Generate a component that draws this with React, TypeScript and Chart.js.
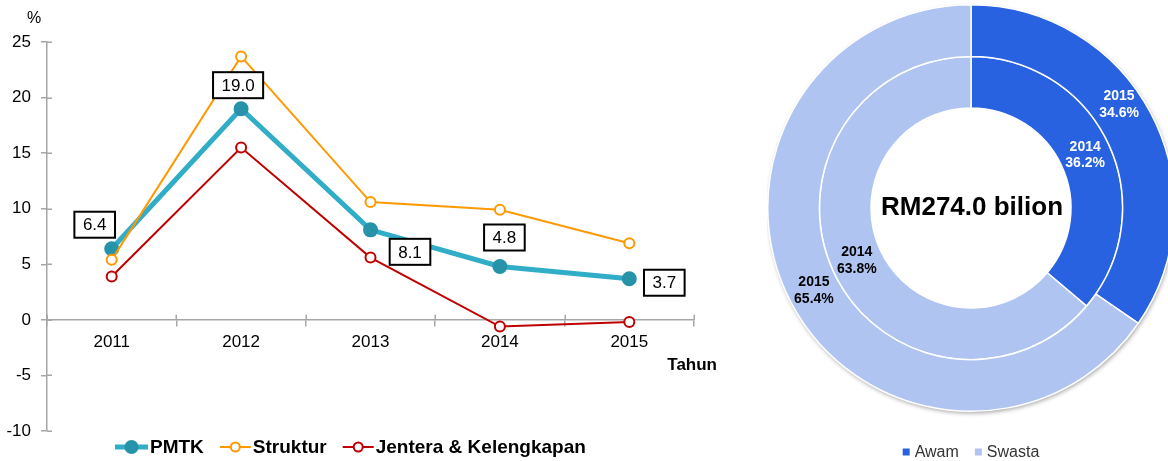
import React, { useEffect, useRef } from 'react';
import { Chart, registerables } from 'chart.js';

Chart.register(...registerables);

// ---------- data ----------
const years = ['2011', '2012', '2013', '2014', '2015'];
const pmtk = [6.4, 19.0, 8.1, 4.8, 3.7];
const struktur = [5.4, 23.7, 10.6, 9.9, 6.9];
const jentera = [3.9, 15.5, 5.6, -0.6, -0.2];
const seriesNames = ['PMTK', 'Struktur', 'Jentera & Kelengkapan'];
const yMin = -10;
const yMax = 25;
const yStep = 5;
const yUnit = '%';
const xTitle = 'Tahun';

const donutCategories = ['Awam', 'Swasta'];
const share2015 = [34.6, 65.4];
const share2014 = [36.2, 63.8];
const ringYears = ['2015', '2014'];
const totalLabel = 'RM274.0 bilion';

// ---------- styles ----------
const FONT = '"Liberation Sans", Arial, Helvetica, sans-serif';
const C_PMTK_LINE = '#31ADC8';
const C_PMTK_PT = '#2793A8';
const C_STR = '#FF9900';
const C_JEN = '#C00000';
const C_AXIS = '#A6A6A6';
const C_AWAM = '#2962E0';
const C_SWASTA = '#AFC4F0';
// label box offsets (px) from each PMTK point
const boxOffsets = [[-17, -24], [-3, -23.5], [39.5, 22], [4.5, -29], [35, 4]];

Chart.defaults.font.family = FONT;

const linePlugin = {
  id: 'lineExtras',
  beforeDatasetsDraw(chart: any) {
    // inner halves of the crossing tick marks
    const ctx = chart.ctx;
    const xs = chart.scales.x;
    const ys = chart.scales.y;
    const axisX = chart.chartArea.left;
    const axisY = ys.getPixelForValue(0);
    ctx.save();
    ctx.strokeStyle = C_AXIS;
    ctx.lineWidth = 1.5;
    ctx.beginPath();
    ys.ticks.forEach((t: any) => {
      const py = Math.round(ys.getPixelForValue(t.value)) + 0.25;
      ctx.moveTo(axisX, py);
      ctx.lineTo(axisX + 5, py);
    });
    const n = xs.ticks.length;
    for (let i = 0; i <= n; i++) {
      const px = Math.round(xs.left + (xs.width * i) / n) + 0.25;
      ctx.moveTo(px, axisY);
      ctx.lineTo(px, axisY - 5);
    }
    ctx.stroke();
    ctx.restore();
  },
  afterDatasetsDraw(chart: any) {
    const ctx = chart.ctx;
    const meta = chart.getDatasetMeta(0);
    ctx.save();
    ctx.font = `17px ${FONT}`;
    ctx.textAlign = 'center';
    ctx.textBaseline = 'middle';
    meta.data.forEach((pt: any, i: number) => {
      const txt = pmtk[i].toFixed(1);
      const w = ctx.measureText(txt).width + 17;
      const h = 26;
      const cx = pt.x + boxOffsets[i][0];
      const cy = pt.y + boxOffsets[i][1];
      ctx.fillStyle = '#fff';
      ctx.fillRect(cx - w / 2, cy - h / 2, w, h);
      ctx.lineWidth = 2;
      ctx.strokeStyle = '#000';
      ctx.strokeRect(cx - w / 2, cy - h / 2, w, h);
      ctx.fillStyle = '#000';
      ctx.fillText(txt, cx, cy + 1);
    });
    ctx.restore();
  },
  afterDraw(chart: any) {
    const ctx = chart.ctx;
    ctx.save();
    // unit
    ctx.fillStyle = '#000';
    ctx.font = `16px ${FONT}`;
    ctx.textAlign = 'center';
    ctx.textBaseline = 'middle';
    ctx.fillText(yUnit, 34, 19);
    // x title
    ctx.font = `bold 17px ${FONT}`;
    ctx.textAlign = 'right';
    ctx.fillText(xTitle, 717, 365);
    // legend
    const y = 447;
    let x = 115;
    const styles = [
      { color: C_PMTK_LINE, lw: 5, r: 7, fill: C_PMTK_PT, stroke: C_PMTK_PT, pw: 0 },
      { color: C_STR, lw: 2, r: 4.5, fill: '#fff', stroke: C_STR, pw: 2 },
      { color: C_JEN, lw: 2, r: 4.5, fill: '#fff', stroke: C_JEN, pw: 2 },
    ];
    ctx.font = `bold 19px ${FONT}`;
    ctx.textAlign = 'left';
    seriesNames.forEach((name, i) => {
      const s = styles[i];
      const mw = i === 0 ? 33 : 31;
      ctx.strokeStyle = s.color;
      ctx.lineWidth = s.lw;
      ctx.beginPath();
      ctx.moveTo(x, y);
      ctx.lineTo(x + mw, y);
      ctx.stroke();
      ctx.beginPath();
      ctx.arc(x + mw / 2, y, s.r, 0, Math.PI * 2);
      ctx.fillStyle = s.fill;
      ctx.fill();
      if (s.pw) {
        ctx.lineWidth = s.pw;
        ctx.strokeStyle = s.stroke;
        ctx.stroke();
      }
      ctx.fillStyle = '#000';
      ctx.fillText(name, x + mw + 2, y + 1);
      x += mw + 2 + ctx.measureText(name).width + 16;
    });
    ctx.restore();
  },
};

const donutPlugin = {
  id: 'donutExtras',
  beforeDatasetsDraw(chart: any) {
    const arc = chart.getDatasetMeta(0).data[0];
    if (!arc) return;
    const ctx = chart.ctx;
    ctx.save();
    ctx.shadowColor = 'rgba(0,0,0,0.35)';
    ctx.shadowBlur = 4;
    ctx.shadowOffsetX = 1;
    ctx.shadowOffsetY = 2;
    ctx.fillStyle = '#fff';
    ctx.beginPath();
    ctx.arc(arc.x, arc.y, arc.outerRadius, 0, Math.PI * 2);
    ctx.fill();
    ctx.restore();
  },
  afterDatasetsDraw(chart: any) {
    const ctx = chart.ctx;
    ctx.save();
    ctx.font = `bold 14px ${FONT}`;
    ctx.textAlign = 'center';
    ctx.textBaseline = 'middle';
    chart.data.datasets.forEach((ds: any, di: number) => {
      const meta = chart.getDatasetMeta(di);
      meta.data.forEach((arc: any, i: number) => {
        const p = arc.tooltipPosition(false);
        let dx = 0;
        let dy = 0;
        if (di === 0 && i === 0) {
          dx = -9;
          dy = -21;
        }
        ctx.fillStyle = i === 0 ? '#fff' : '#000';
        ctx.fillText(ringYears[di], p.x + dx, p.y + dy - 8.3);
        ctx.fillText(ds.data[i].toFixed(1) + '%', p.x + dx, p.y + dy + 8.4);
      });
    });
    ctx.restore();
  },
  afterDraw(chart: any) {
    const ctx = chart.ctx;
    const arc = chart.getDatasetMeta(0).data[0];
    ctx.save();
    ctx.fillStyle = '#000';
    ctx.font = `bold 26px ${FONT}`;
    ctx.textAlign = 'center';
    ctx.textBaseline = 'middle';
    ctx.fillText(totalLabel, arc.x + 1, arc.y);
    // legend
    ctx.font = `16px ${FONT}`;
    const colors = [C_AWAM, C_SWASTA];
    const sq = 7;
    const gap = 5;
    const itemGap = 16;
    const widths = donutCategories.map((t) => sq + gap + ctx.measureText(t).width);
    const total = widths.reduce((a, b) => a + b, 0) + itemGap * (widths.length - 1);
    let x = arc.x - total / 2;
    const y = 452;
    ctx.textAlign = 'left';
    donutCategories.forEach((t, i) => {
      ctx.fillStyle = colors[i];
      ctx.fillRect(x, y - sq / 2, sq, sq);
      ctx.fillStyle = '#333';
      ctx.fillText(t, x + sq + gap, y + 1);
      x += widths[i] + itemGap;
    });
    ctx.restore();
  },
};

function LineChart() {
  const ref = useRef<HTMLCanvasElement | null>(null);
  useEffect(() => {
    if (!ref.current) return;
    const chart = new Chart(ref.current, {
      type: 'line',
      data: {
        labels: years,
        datasets: [
          {
            label: seriesNames[0],
            data: pmtk,
            borderColor: C_PMTK_LINE,
            borderWidth: 5,
            pointRadius: 7.5,
            pointBackgroundColor: C_PMTK_PT,
            pointBorderColor: C_PMTK_PT,
            pointBorderWidth: 0,
            tension: 0,
            order: 1,
          },
          {
            label: seriesNames[1],
            data: struktur,
            borderColor: C_STR,
            borderWidth: 2,
            pointRadius: 5,
            pointBackgroundColor: '#fff',
            pointBorderColor: C_STR,
            pointBorderWidth: 2,
            tension: 0,
            order: 0,
          },
          {
            label: seriesNames[2],
            data: jentera,
            borderColor: C_JEN,
            borderWidth: 2,
            pointRadius: 5,
            pointBackgroundColor: '#fff',
            pointBorderColor: C_JEN,
            pointBorderWidth: 2,
            tension: 0,
            order: 2,
          },
        ],
      },
      options: {
        responsive: false,
        animation: false,
        layout: { padding: { left: 0, top: 42, right: 26, bottom: 30 } },
        plugins: { legend: { display: false }, tooltip: { enabled: false }, title: { display: false } },
        scales: {
          x: {
            type: 'category',
            position: { y: 0 } as any,
            offset: true,
            afterFit: (s: any) => {
              s.height = 0;
            },
            grid: { display: true, drawOnChartArea: false, drawTicks: true, tickLength: 6, offset: true, color: C_AXIS, lineWidth: 1.5 },
            border: { display: true, color: C_AXIS, width: 1.5 },
            ticks: { color: '#000', font: { size: 17, family: FONT }, padding: 6, maxRotation: 0, autoSkip: false },
          },
          y: {
            type: 'linear',
            min: yMin,
            max: yMax,
            afterFit: (s: any) => {
              s.width = 47;
            },
            grid: { display: true, drawOnChartArea: false, drawTicks: true, tickLength: 6, color: C_AXIS, lineWidth: 1.5 },
            border: { display: true, color: C_AXIS, width: 1.5 },
            ticks: { stepSize: yStep, color: '#000', font: { size: 17, family: FONT }, padding: 10 },
          },
        },
      },
      plugins: [linePlugin],
    } as any);
    return () => chart.destroy();
  }, []);
  return (
    <canvas
      ref={ref}
      width={720}
      height={461}
      style={{ position: 'absolute', left: 0, top: 0, width: 720, height: 461 }}
    />
  );
}

function DonutChart() {
  const ref = useRef<HTMLCanvasElement | null>(null);
  useEffect(() => {
    if (!ref.current) return;
    const chart = new Chart(ref.current, {
      type: 'doughnut',
      data: {
        labels: donutCategories,
        datasets: [
          {
            label: ringYears[0],
            data: share2015,
            backgroundColor: [C_AWAM, C_SWASTA],
            borderColor: '#fff',
            borderWidth: 1.5,
          },
          {
            label: ringYears[1],
            data: share2014,
            backgroundColor: [C_AWAM, C_SWASTA],
            borderColor: '#fff',
            borderWidth: 1.5,
          },
        ],
      },
      options: {
        responsive: false,
        animation: false,
        cutout: '49.2%',
        rotation: 0,
        layout: { padding: { left: 0, right: 0, top: 4, bottom: 49 } },
        plugins: { legend: { display: false }, tooltip: { enabled: false }, title: { display: false } },
      },
      plugins: [donutPlugin],
    } as any);
    return () => chart.destroy();
  }, []);
  return (
    <canvas
      ref={ref}
      width={408}
      height={461}
      style={{ position: 'absolute', left: 767, top: 0, width: 408, height: 461 }}
    />
  );
}

export default function App() {
  return (
    <div
      style={{
        position: 'fixed',
        left: 0,
        top: 0,
        width: 1168,
        height: 461,
        overflow: 'hidden',
        background: '#fff',
      }}
    >
      <LineChart />
      <DonutChart />
    </div>
  );
}
